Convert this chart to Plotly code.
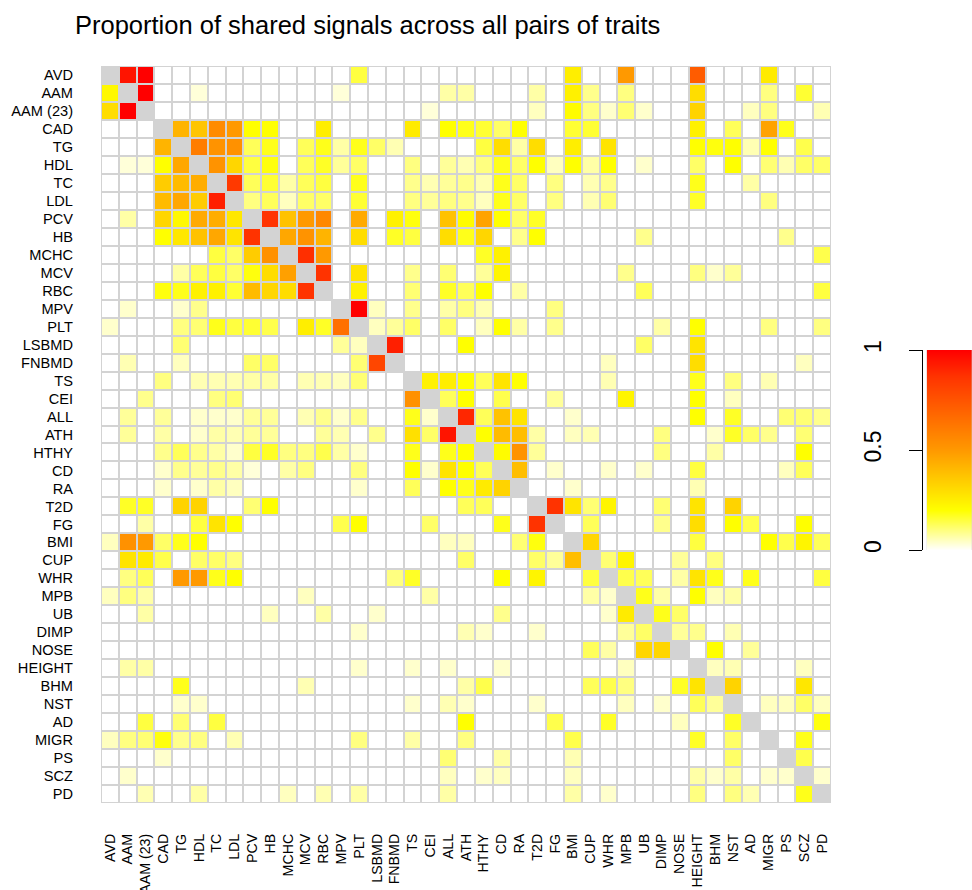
import plotly.graph_objects as go

traits = ["AVD", "AAM", "AAM (23)", "CAD", "TG", "HDL", "TC", "LDL", "PCV", "HB",
          "MCHC", "MCV", "RBC", "MPV", "PLT", "LSBMD", "FNBMD", "TS", "CEI", "ALL",
          "ATH", "HTHY", "CD", "RA", "T2D", "FG", "BMI", "CUP", "WHR", "MPB",
          "UB", "DIMP", "NOSE", "HEIGHT", "BHM", "NST", "AD", "MIGR", "PS", "SCZ", "PD"]
N = None

row_AVD = [N,.95,1,0,0,0,0,0,0,0, 0,0,0,0,.15,0,0,0,0,0, 0,0,0,0,0,0,.25,0,0,.5, 0,0,0,.72,0,0,0,.26,0,0,0]
row_AAM = [.22,N,1,0,0,.03,0,0,0,0, 0,0,0,.03,0,0,0,0,0,.07, .07,0,0,0,.07,0,.24,.09,0,.1, 0,0,0,.3,0,0,0,.1,0,.16,0]
row_AAM23 = [.3,1,N,0,0,0,0,0,0,0, 0,0,0,0,0,0,0,0,.03,0, 0,0,0,0,.05,0,.21,.1,.04,.11, .04,0,0,.33,0,0,.05,.1,0,0,.06]
row_CAD = [0,0,0,N,.42,.37,.55,.5,.2,.2, 0,0,.25,0,0,0,0,.26,0,.2, .18,.16,.12,.2,0,0,.16,.16,0,0, 0,0,0,.24,0,.13,0,.47,.18,0,0]
row_TG = [0,0,0,.42,N,.6,.52,.53,.13,.18, 0,.13,.18,.07,.18,.12,.06,0,0,0, 0,.15,.3,.07,.3,0,.25,0,.28,0, 0,0,0,.2,.19,.2,.06,.2,0,.14,0]
row_HDL = [0,.03,.03,.2,.46,N,.52,.32,.15,.19, 0,.13,.17,.08,.12,0,0,.1,0,.08, .06,.1,.18,.12,.2,.05,.2,.07,.2,0, .04,0,0,.12,0,.2,0,.11,.06,.12,.12]
row_TC = [0,0,0,.35,.4,.44,N,.85,.13,.16, .07,.13,.15,0,.18,0,0,.09,.06,.08, .09,.06,.18,.12,0,.1,0,.06,.09,0, 0,0,0,.18,0,0,.07,0,0,0,0]
row_LDL = [0,0,0,.4,.46,.35,.92,N,.1,.13, .05,.12,.12,0,.16,0,0,.1,.08,.1, .09,.05,.18,.12,0,.1,0,.06,.11,0, 0,0,0,.17,0,0,0,.1,0,0,0]
row_PCV = [0,.07,0,.32,.22,.45,.44,.27,N,.87, .38,.5,.56,0,.45,0,.24,.19,0,.38, .21,.47,.2,.12,.17,0,0,0,0,0, 0,0,0,0,0,0,0,0,0,0,0]
row_HB = [0,0,0,.2,.27,.38,.46,.28,.87,N, .46,.52,.42,0,.3,0,.17,.15,0,.3, .18,.32,0,.09,.2,0,0,0,0,0, .09,0,0,0,0,0,0,0,.09,0,0]
row_MCHC = [0,0,0,0,0,0,.15,.12,.35,.53, N,.88,.5,0,0,0,0,0,0,0, 0,.17,.24,0,0,0,0,0,0,0, 0,0,0,0,0,0,0,0,0,0,.14]
row_MCV = [0,0,0,0,.07,.13,.15,.12,.19,.3, .48,N,.87,0,.28,0,0,.09,0,.11, 0,.08,.23,0,0,0,0,0,0,.09, 0,0,0,.1,.04,.08,0,0,0,0,0]
row_RBC = [0,0,0,.19,.18,.24,.24,.16,.4,.32, .3,.87,N,0,.24,0,0,.11,0,.17, .13,.2,0,.07,0,0,0,0,0,0, .13,0,0,0,0,0,0,0,0,0,.15]
row_MPV = [0,.04,0,0,.04,.09,0,0,0,0, 0,0,0,N,1,.05,0,.09,0,.07, .1,.06,0,0,0,.1,0,0,0,0, 0,0,0,0,0,0,0,0,0,0,0]
row_PLT = [.04,0,0,0,.1,.11,.18,.15,.16,.14, 0,.25,.17,.65,N,.05,.08,.12,0,.12, 0,.05,.2,.07,0,.09,0,0,0,0, 0,.07,0,.2,0,0,0,.1,0,0,.1]
row_LSBMD = [0,0,0,0,.11,0,0,0,0,0, 0,0,0,.08,.05,N,.92,0,0,0, .2,0,0,0,0,0,0,0,0,0, .12,0,0,.28,0,0,0,0,0,0,0]
row_FNBMD = [0,.06,0,0,.05,0,0,0,.12,.12, 0,0,0,0,.11,.8,N,0,0,0, 0,0,0,0,0,0,0,0,.05,0, 0,0,0,.3,0,0,0,0,0,.05,0]
row_TS = [0,0,0,.1,0,.06,.06,.06,.07,.07, 0,.06,.06,.05,.11,0,0,N,.24,.25, .2,.13,.28,.2,0,0,0,0,.06,0, 0,0,0,.18,0,.1,0,.06,0,0,0]
row_CEI = [0,0,.09,0,0,0,.1,.11,0,0, 0,0,0,0,0,0,0,.53,N,.13, .2,0,.14,0,0,.08,0,0,0,.23, 0,0,0,.2,0,.05,0,0,0,0,0]
row_ALL = [0,.08,0,.08,0,.04,.04,.04,.08,.08, 0,.06,.09,.04,.09,0,0,.18,.04,N, .9,.13,.38,.28,0,0,.04,0,0,0, 0,0,0,.2,0,.17,0,0,.11,.11,.09]
row_ATH = [0,.08,0,.07,0,.04,.07,.06,.08,.08, 0,0,.08,.06,0,.09,0,.29,.12,.95, N,.2,.4,.39,.07,0,.05,.06,0,0, 0,.1,0,0,.04,.17,.12,.09,0,.11,0]
row_HTHY = [0,0,0,.09,.13,.09,.07,.04,.15,.17, .1,.1,.14,.07,.04,0,0,.18,0,.18, .2,N,.21,.52,.08,0,0,0,0,0, 0,.1,0,0,.07,0,0,0,0,.2,0]
row_CD = [0,0,0,.04,.09,.08,.09,.07,.03,0, .07,.1,0,0,.1,0,0,.2,.04,.28, .2,.13,N,.39,0,.04,0,0,.04,0, .04,0,0,.15,0,0,0,0,.05,.13,0]
row_RA = [0,0,0,.04,0,.04,.07,.05,0,0, 0,0,0,0,.04,0,0,.13,0,.2, .18,.26,.33,N,0,0,.04,0,0,0, 0,0,0,.06,0,0,0,0,0,0,0]
row_T2D = [0,.17,.17,0,.33,.33,0,0,.11,.2, 0,0,0,0,0,0,0,0,0,0, .13,.13,0,0,N,.87,.28,.11,.23,0, 0,.11,0,.28,0,.33,0,0,0,0,0]
row_FG = [0,0,.07,0,0,.15,.28,.2,0,0, 0,0,0,.14,.2,0,0,0,.12,0, 0,0,.18,0,.87,N,0,.13,0,0, 0,.09,0,.3,0,.2,.14,0,0,.2,0]
row_BMI = [.05,.53,.5,.12,.18,.2,0,0,0,0, 0,0,0,0,0,0,0,0,0,.05, .05,0,0,.11,.19,0,N,.32,0,0, 0,0,0,.15,0,0,0,.2,.14,.23,.13]
row_CUP = [0,.28,.26,.14,0,.12,.12,.1,0,0, 0,0,0,0,0,0,0,0,0,0, .12,0,0,0,.12,.08,.39,N,.11,.23, 0,0,.08,0,.1,0,0,0,0,0,0]
row_WHR = [0,.1,.13,0,.5,.5,.18,.2,0,0, 0,0,0,0,0,0,.1,.17,0,0, 0,0,.2,0,.23,0,0,.15,N,.14, .13,0,.07,.28,.18,0,.18,0,0,0,.15]
row_MPB = [.05,.1,.07,0,0,0,0,0,0,0, 0,.05,0,0,0,0,0,0,.07,0, 0,0,0,0,0,0,0,.07,.04,N, .18,.07,0,.2,.05,.07,0,0,0,0,0]
row_UB = [0,0,.07,0,0,0,0,0,0,.05, 0,0,.07,0,0,.04,0,0,0,0, 0,0,.09,0,0,0,0,0,.04,.26, N,.18,.12,0,0,0,0,0,0,0,0]
row_DIMP = [0,0,0,0,0,0,0,0,0,0, 0,0,0,0,.04,0,0,0,0,0, .06,.04,0,0,.04,0,0,0,0,.08, .12,N,.08,.09,0,.06,0,0,0,0,0]
row_NOSE = [0,0,0,0,0,0,0,0,0,0, 0,0,0,0,0,0,0,0,0,0, 0,0,0,0,0,0,0,.13,.07,0, .32,.32,N,0,.2,0,.08,0,0,0,0]
row_HEIGHT = [0,.07,.07,0,0,0,0,0,0,0, 0,0,0,0,.04,0,0,.04,0,.04, 0,0,.04,0,0,0,0,0,0,.05, 0,0,0,N,.05,.06,0,0,0,.05,0]
row_BHM = [0,0,0,0,.18,0,0,0,0,0, 0,.06,0,0,0,0,0,0,0,0, .07,.14,0,0,0,0,0,.13,.14,.1, 0,0,.17,.28,N,.33,0,0,0,.27,0]
row_NST = [0,0,0,0,.04,.04,0,0,0,0, 0,0,0,0,0,0,0,.04,0,.06, .04,0,0,0,.04,0,0,0,0,.05, 0,.04,0,.13,.08,N,0,.05,.05,.12,.05]
row_AD = [0,0,.15,0,.11,0,.15,0,0,0, 0,0,0,0,0,0,0,0,0,0, .2,0,0,0,0,.14,0,0,.17,0, 0,0,.05,0,0,.17,N,0,0,0,.19]
row_MIGR = [.05,.1,.11,.19,.09,.1,0,.06,0,0, 0,0,0,0,.1,0,0,.07,0,0, .1,0,0,0,0,0,.14,0,0,0, 0,0,0,.17,0,.12,0,N,0,.18,0]
row_PS = [0,0,0,.04,0,0,0,0,0,0, 0,0,0,0,0,0,0,0,0,.11, 0,0,.07,0,0,0,.06,0,0,0, 0,0,0,0,0,.12,0,0,N,.14,0]
row_SCZ = [0,.04,0,0,0,0,0,0,0,0, 0,0,0,0,0,0,0,0,0,.05, 0,.04,.05,0,0,0,.05,0,0,0, 0,0,0,.07,.04,.07,0,.04,.04,N,.04]
row_PD = [0,0,.06,0,0,.07,0,0,0,0, .05,0,.06,0,.07,0,0,0,0,.07, 0,0,0,0,0,0,.07,0,.04,0, 0,0,0,.1,0,.1,.06,0,0,.18,N]

matrix = [row_AVD, row_AAM, row_AAM23, row_CAD, row_TG, row_HDL, row_TC, row_LDL, row_PCV, row_HB,
          row_MCHC, row_MCV, row_RBC, row_MPV, row_PLT, row_LSBMD, row_FNBMD, row_TS, row_CEI, row_ALL,
          row_ATH, row_HTHY, row_CD, row_RA, row_T2D, row_FG, row_BMI, row_CUP, row_WHR, row_MPB,
          row_UB, row_DIMP, row_NOSE, row_HEIGHT, row_BHM, row_NST, row_AD, row_MIGR, row_PS, row_SCZ, row_PD]

legend_ticks = [0, 0.5, 1]
legend_labels = ["0", "0.5", "1"]
legend_levels = [i / 200 for i in range(201)]

cscale = [[0, "#FFFFFF"], [0.2, "#FFFF00"], [0.5, "#FF9900"], [0.87, "#FF3300"], [1, "#FF0000"]]
FONT = "Liberation Sans, Arial, Helvetica, sans-serif"

fig = go.Figure()
fig.add_trace(go.Heatmap(
    z=matrix, x=traits, y=traits, colorscale=cscale, zmin=0, zmax=1,
    showscale=False, xgap=2, ygap=2, hoverongaps=False,
))
fig.add_trace(go.Heatmap(
    z=[[v] for v in legend_levels], x=[0], y=legend_levels, colorscale=cscale,
    zmin=0, zmax=1, showscale=False, xaxis="x2", yaxis="y2",
))

W, H = 972, 890
ml, mr, mt, mb = 101, 0, 66, 87
pw = W - ml - mr
ph = H - mt - mb

fig.update_layout(
    width=W, height=H,
    margin=dict(l=ml, r=mr, t=mt, b=mb, autoexpand=False),
    paper_bgcolor="white",
    plot_bgcolor="#D3D3D3",
    font=dict(family=FONT, color="black"),
    title=dict(text="Proportion of shared signals across all pairs of traits",
               x=75 / W, xanchor="left", y=1 - 25 / H, yanchor="middle",
               font=dict(size=25.5, family=FONT, color="black")),
    xaxis=dict(domain=[0, 730 / pw], tickangle=-90, tickfont=dict(size=14.2),
               showgrid=False, zeroline=False, ticks="", ticklabelstandoff=27,
               tickmode="array", tickvals=traits, ticktext=traits),
    yaxis=dict(autorange="reversed", tickfont=dict(size=14.6), showgrid=False,
               zeroline=False, ticks="", ticklabelstandoff=27,
               tickmode="array", tickvals=traits, ticktext=traits),
    xaxis2=dict(domain=[(926.7 - ml) / pw, 1], range=[-0.5, 0.5], visible=False,
                anchor="y2"),
    yaxis2=dict(domain=[(ph + mt - 550) / ph, (ph + mt - 350) / ph], range=[0, 1],
                anchor="free", position=(921.5 - ml) / pw, side="left",
                tickmode="array", tickvals=legend_ticks, ticktext=legend_labels,
                tickangle=-90, ticks="outside", ticklen=13, tickcolor="black",
                showline=True, linecolor="black", linewidth=1,
                showgrid=False, zeroline=False, tickfont=dict(size=23),
                ticklabelstandoff=18),
)

fig.write_html("out.html", config={"displayModeBar": False},
               post_script="document.body.style.margin='0px';document.body.style.overflow='hidden';")
